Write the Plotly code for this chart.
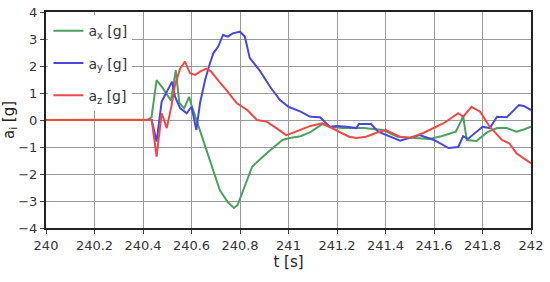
import plotly.graph_objects as go

# a_x
t_x = [240.0, 240.42, 240.435, 240.456, 240.48, 240.5, 240.515, 240.535, 240.55, 240.57,
       240.59, 240.6, 240.62, 240.635, 240.676, 240.717, 240.75, 240.775, 240.79, 240.82,
       240.85, 240.91, 240.975, 241.005, 241.05, 241.09, 241.14, 241.17, 241.22, 241.31,
       241.39, 241.45, 241.53, 241.58, 241.63, 241.69, 241.71, 241.72, 241.735, 241.775,
       241.82, 241.86, 241.9, 241.94, 241.97, 242.0]
a_x = [0, 0.02, 0.1, 1.48, 1.2, 0.9, 0.72, 1.85, 0.63, 0.44,
       0.86, 0.55, 0.0, -0.4, -1.48, -2.6, -3.05, -3.26, -3.15, -2.4,
       -1.73, -1.23, -0.74, -0.67, -0.6, -0.45, -0.15, -0.25, -0.3, -0.3,
       -0.37, -0.62, -0.67, -0.7, -0.6, -0.43, -0.06, 0.15, -0.74, -0.78,
       -0.45, -0.3, -0.3, -0.43, -0.35, -0.25]

# a_y
t_y = [240.0, 240.42, 240.436, 240.456, 240.477, 240.52, 240.532, 240.553, 240.58, 240.6,
       240.62, 240.635, 240.656, 240.676, 240.69, 240.71, 240.73, 240.75, 240.77, 240.8,
       240.82, 240.84, 240.88, 240.924, 240.965, 241.0, 241.05, 241.09, 241.13, 241.17,
       241.2, 241.24, 241.28, 241.29, 241.34, 241.37, 241.46, 241.54, 241.6, 241.66,
       241.7, 241.72, 241.74, 241.8, 241.83, 241.86, 241.9, 241.95, 241.97, 242.0]
a_y = [0, 0.0, 0.0, -0.8, 0.68, 1.42, 0.86, 0.44, 0.25, 0.49,
       -0.37, 0.62, 1.48, 2.1, 2.47, 2.72, 3.15, 3.09, 3.21, 3.27,
       3.09, 2.3, 1.85, 1.23, 0.74, 0.49, 0.31, 0.12, 0.1, -0.25,
       -0.22, -0.25, -0.3, -0.15, -0.15, -0.43, -0.77, -0.56, -0.74, -1.04,
       -1.0, -0.6, -0.7, -0.25, -0.3, 0.12, 0.1, 0.55, 0.52, 0.37]

# a_z
t_z = [240.0, 240.42, 240.436, 240.456, 240.477, 240.498, 240.518, 240.532, 240.553, 240.573,
       240.594, 240.615, 240.635, 240.66, 240.68, 240.72, 240.745, 240.787, 240.83, 240.87,
       240.91, 240.95, 240.99, 241.03, 241.09, 241.14, 241.18, 241.25, 241.28, 241.32,
       241.36, 241.4, 241.46, 241.5, 241.555, 241.64, 241.7, 241.72, 241.755, 241.79,
       241.83, 241.88, 241.91, 241.94, 241.97, 242.0]
a_z = [0, 0, 0, -1.36, 0.25, -0.3, 0.55, 1.3, 1.9, 2.16,
       1.73, 1.67, 1.79, 1.9, 1.8, 1.36, 1.1, 0.62, 0.37, 0.0,
       -0.06, -0.3, -0.56, -0.43, -0.22, -0.12, -0.3, -0.62, -0.67, -0.62,
       -0.48, -0.37, -0.62, -0.67, -0.48, -0.12, 0.25, 0.12, 0.49, 0.31,
       -0.25, -0.74, -0.86, -1.23, -1.42, -1.6]

series = [
    ("a<sub>x</sub> [g]", t_x, a_x, "rgb(78,160,96)"),
    ("a<sub>y</sub> [g]", t_y, a_y, "rgb(72,72,222)"),
    ("a<sub>z</sub> [g]", t_z, a_z, "rgb(240,72,72)"),
]

fig = go.Figure()
for i, (name, t, a, col) in enumerate(series):
    fig.add_trace(go.Scatter(x=t, y=a, name=name, mode="lines", legendgroup=str(i),
                             line=dict(color=col, width=2)))

axis_common = dict(
    showgrid=True, gridcolor="#9a9a9a", gridwidth=1.3,
    showline=True, linecolor="#222", linewidth=2, mirror=True,
    ticks="outside", ticklen=4, tickcolor="#444", zeroline=False,
    tickfont=dict(size=13, color="#333"), automargin=False,
)

fig.update_xaxes(range=[240, 242], dtick=0.2, tick0=240,
                 title=dict(text="t [s]", font=dict(size=15, color="#222"), standoff=2),
                 **axis_common)
fig.update_yaxes(range=[-4, 4], dtick=1,
                 title=dict(text="a<sub>i</sub> [g]", font=dict(size=15, color="#222"), standoff=4),
                 **axis_common)

fig.update_layout(
    width=550, height=282,
    margin=dict(l=46, r=19, t=12, b=54),
    plot_bgcolor="white", paper_bgcolor="white",
    font=dict(family="DejaVu Sans", size=13, color="#333"),
    legend=dict(x=0.005, y=0.985, xanchor="left", yanchor="top",
                bgcolor="white", tracegroupgap=11,
                font=dict(size=14, color="#333"), itemwidth=30),
    showlegend=True,
)

# drop the default page margin so the figure sits at the window's corner
fig.write_html("out.html", config={"displayModeBar": False},
               post_script="document.body.style.margin='0';")
